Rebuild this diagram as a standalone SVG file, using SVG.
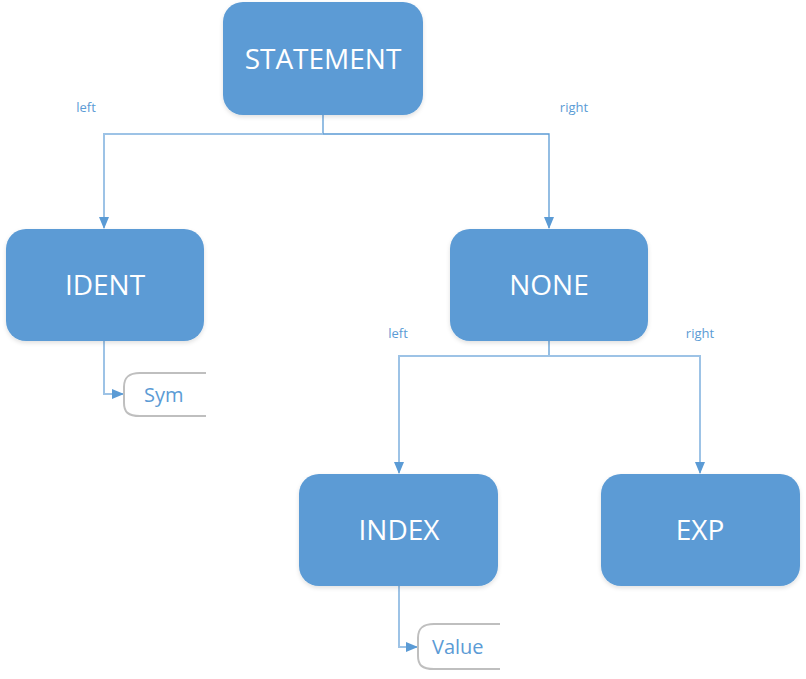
<svg xmlns="http://www.w3.org/2000/svg" width="806" height="679" viewBox="0 0 806 679">
<style>
.box{fill:#5b9bd5;filter:url(#sh)}
.bt{fill:#ffffff;font-family:"Open Sans","Noto Sans",sans-serif;font-size:28px;text-anchor:middle}
.lbl{fill:#5b9bd5;font-family:"Open Sans","Noto Sans",sans-serif;font-size:13px;text-anchor:middle}
.leaf{fill:#ffffff;stroke:#bfbfbf;stroke-width:2}
.lt{fill:#5b9bd5;font-family:"Open Sans","Noto Sans",sans-serif;font-size:20px}
.c1{fill:none;stroke:#5b9bd5;stroke-width:1.3}
.c2{fill:none;stroke:#9dc3e6;stroke-width:2}
</style>
<defs>
<filter id="sh" x="-10%" y="-10%" width="120%" height="130%">
<feDropShadow dx="0" dy="2" stdDeviation="2" flood-color="#000" flood-opacity="0.12"/>
</filter>
<marker id="a1" markerWidth="12" markerHeight="10" refX="11" refY="5" orient="auto" markerUnits="userSpaceOnUse">
<path d="M0,0 L12,5 L0,10 Z" fill="#5b9bd5"/>
</marker>
</defs>
<g id="connectors">
<path class="c1" d="M323,115 V134"/>
<path class="c2" d="M323,134 H104 V228" marker-end="url(#a1)"/>
<path class="c1" d="M323,134 H549 V228" marker-end="url(#a1)"/>
<path class="c1" d="M549,341 V356"/>
<path class="c2" d="M549,356 H399 V473" marker-end="url(#a1)"/>
<path class="c2" d="M549,356 H700 V473" marker-end="url(#a1)"/>
<path class="c2" d="M104,341 V394 H123" marker-end="url(#a1)"/>
<path class="c2" d="M399,586 V647 H417" marker-end="url(#a1)"/>
<text class="lbl" x="86" y="112">left</text>
<text class="lbl" x="574" y="112">right</text>
<text class="lbl" x="398" y="338">left</text>
<text class="lbl" x="700" y="338">right</text>
</g>
<g id="statement">
<rect class="box" x="223" y="2" width="200" height="113" rx="20"/>
<text class="bt" x="323" y="69">STATEMENT</text>
</g>
<g id="ident">
<rect class="box" x="6" y="229" width="198" height="112" rx="20"/>
<text class="bt" x="105" y="295">IDENT</text>
</g>
<g id="none">
<rect class="box" x="450" y="229" width="198" height="112" rx="20"/>
<text class="bt" x="549" y="295">NONE</text>
</g>
<g id="index">
<rect class="box" x="299" y="474" width="199" height="112" rx="20"/>
<text class="bt" x="399" y="540">INDEX</text>
</g>
<g id="exp">
<rect class="box" x="601" y="474" width="199" height="112" rx="20"/>
<text class="bt" x="700" y="540">EXP</text>
</g>
<g id="sym">
<path class="leaf" d="M206,373 H140 C128,373 124,378 124,387 V403 C124,412 128,416 140,416 H206"/>
<text class="lt" x="144" y="402">Sym</text>
</g>
<g id="value">
<path class="leaf" d="M500,624 H434 C422,624 418,629 418,638 V656 C418,665 422,669 434,669 H500"/>
<text class="lt" x="432" y="654">Value</text>
</g>
</svg>
